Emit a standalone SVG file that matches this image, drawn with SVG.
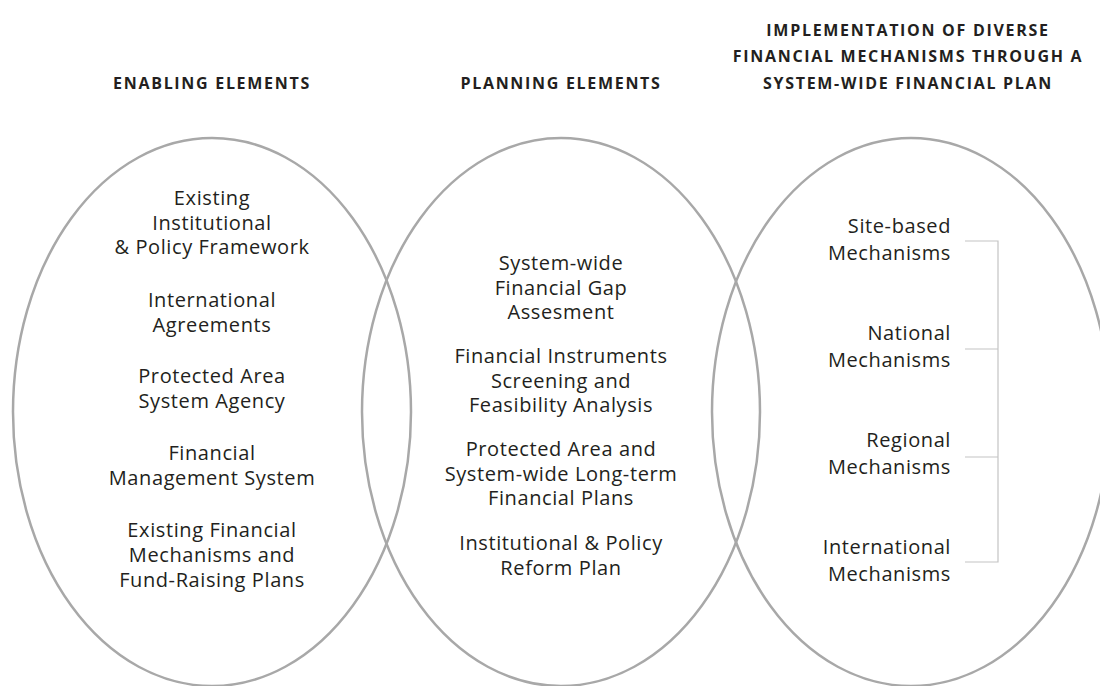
<svg xmlns="http://www.w3.org/2000/svg" width="1100" height="686" viewBox="0 0 1100 686">
<style>
.ell{fill:none;stroke:#a8a8a8;stroke-width:2.5}
.hd{font-family:"Open Sans","Liberation Sans",sans-serif;font-weight:700;font-size:16px;letter-spacing:1.7px;fill:#231f20;text-anchor:middle}
.tx{font-family:"Open Sans","Liberation Sans",sans-serif;font-size:20px;letter-spacing:0.6px;fill:#231f20;text-anchor:middle}
.tr{font-family:"Open Sans","Liberation Sans",sans-serif;font-size:20px;letter-spacing:0.6px;fill:#231f20;text-anchor:end}
.br{fill:none;stroke:#c4c4c4;stroke-width:1.2}
</style>
<rect width="1100" height="686" fill="#ffffff"/>
<g id="headers">
<text class="hd" x="212" y="89">ENABLING ELEMENTS</text>
<text class="hd" x="561" y="89">PLANNING ELEMENTS</text>
<text class="hd" x="908" y="36">IMPLEMENTATION OF DIVERSE<tspan x="908" y="62">FINANCIAL MECHANISMS THROUGH A</tspan><tspan x="908" y="89">SYSTEM-WIDE FINANCIAL PLAN</tspan></text>
</g>
<g id="enabling">
<ellipse class="ell" cx="212" cy="412" rx="199" ry="274"/>
<text class="tx" x="212" y="205">Existing<tspan x="212" y="229.5">Institutional</tspan><tspan x="212" y="254">&amp; Policy Framework</tspan></text>
<text class="tx" x="212" y="307">International<tspan x="212" y="331.5">Agreements</tspan></text>
<text class="tx" x="212" y="383">Protected Area<tspan x="212" y="407.5">System Agency</tspan></text>
<text class="tx" x="212" y="460">Financial<tspan x="212" y="485">Management System</tspan></text>
<text class="tx" x="212" y="537">Existing Financial<tspan x="212" y="562">Mechanisms and</tspan><tspan x="212" y="587">Fund-Raising Plans</tspan></text>
</g>
<g id="planning">
<ellipse class="ell" cx="561" cy="412" rx="199" ry="274"/>
<text class="tx" x="561" y="270">System-wide<tspan x="561" y="294.5">Financial Gap</tspan><tspan x="561" y="319">Assesment</tspan></text>
<text class="tx" x="561" y="363">Financial Instruments<tspan x="561" y="387.5">Screening and</tspan><tspan x="561" y="412">Feasibility Analysis</tspan></text>
<text class="tx" x="561" y="456">Protected Area and<tspan x="561" y="480.5">System-wide Long-term</tspan><tspan x="561" y="505">Financial Plans</tspan></text>
<text class="tx" x="561" y="550">Institutional &amp; Policy<tspan x="561" y="574.5">Reform Plan</tspan></text>
</g>
<g id="implementation">
<ellipse class="ell" cx="911" cy="412" rx="199" ry="274"/>
<text class="tr" x="951" y="233">Site-based<tspan x="951" y="260">Mechanisms</tspan></text>
<text class="tr" x="951" y="340">National<tspan x="951" y="367">Mechanisms</tspan></text>
<text class="tr" x="951" y="447">Regional<tspan x="951" y="474">Mechanisms</tspan></text>
<text class="tr" x="951" y="554">International<tspan x="951" y="581">Mechanisms</tspan></text>
</g>
<g id="connectors">
<path class="br" d="M965 241H998V562H965M965 349H998M965 457H998"/>
</g>
</svg>
